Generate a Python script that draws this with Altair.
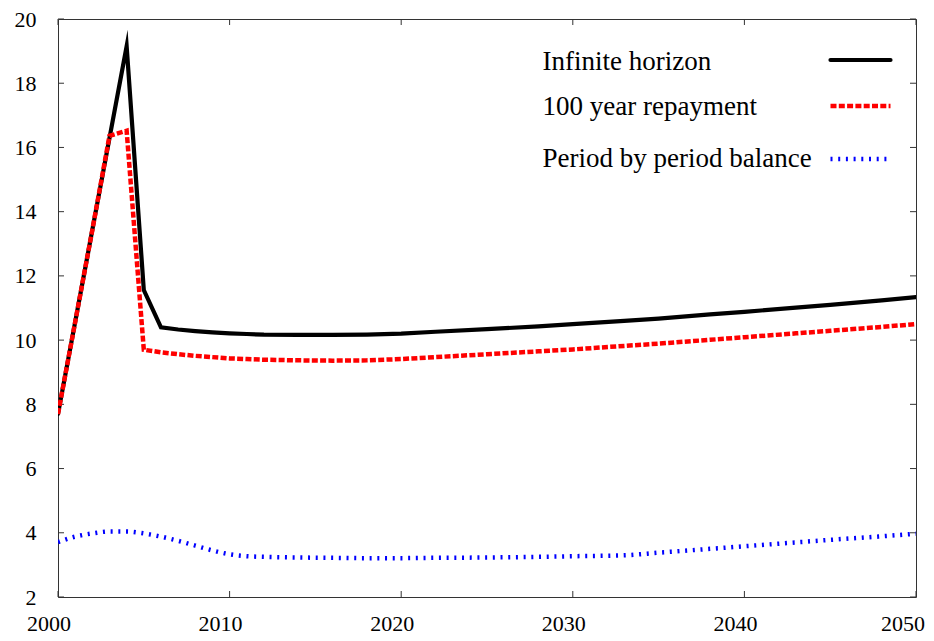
import altair as alt
import pandas as pd

# ---------------- data ----------------
years = [2000, 2001, 2002, 2003, 2004, 2005, 2006, 2007, 2008, 2009, 2010, 2011, 2012,
         2014, 2016, 2018, 2020, 2022, 2025, 2028, 2030, 2033, 2035, 2038, 2040, 2043,
         2045, 2048, 2050]
infinite_horizon = [7.70, 10.56, 13.43, 16.29, 19.15, 11.56, 10.40, 10.33, 10.28, 10.24,
                    10.21, 10.19, 10.17, 10.16, 10.16, 10.17, 10.20, 10.26, 10.34, 10.43,
                    10.50, 10.60, 10.67, 10.80, 10.88, 11.01, 11.10, 11.24, 11.34]
repayment_100 = [7.70, 10.56, 13.43, 16.36, 16.52, 9.70, 9.62, 9.56, 9.51, 9.47,
                 9.43, 9.41, 9.39, 9.37, 9.36, 9.37, 9.41, 9.47, 9.56, 9.65,
                 9.71, 9.82, 9.89, 10.01, 10.09, 10.21, 10.29, 10.41, 10.50]
period_balance = [3.71, 3.88, 3.98, 4.04, 4.04, 3.98, 3.88, 3.75, 3.60, 3.45,
                  3.33, 3.27, 3.25, 3.23, 3.22, 3.21, 3.21, 3.22, 3.23, 3.25,
                  3.27, 3.30, 3.38, 3.50, 3.58, 3.70, 3.78, 3.89, 3.97]
series_labels = ["Infinite horizon", "100 year repayment", "Period by period balance"]
x_ticks = [2000, 2010, 2020, 2030, 2040, 2050]
y_ticks = [2, 4, 6, 8, 10, 12, 14, 16, 18, 20]

# ---------------- layout / style ----------------
W, H = 858, 578
FONT = "Liberation Serif"
FRAME = "#333333"

xs = alt.Scale(domain=[2000, 2050], nice=False, zero=False)
ys = alt.Scale(domain=[2, 20], nice=False, zero=False)

x_axis = alt.Axis(values=x_ticks, format="d", ticks=False, tickSize=0, domain=False,
                  grid=False, labels=False, title=None)
y_axis = alt.Axis(values=y_ticks, format="d", ticks=False, tickSize=0, domain=False,
                  grid=False, labelFont=FONT, labelFontSize=22, labelColor="black",
                  labelPadding=22, labelOverlap=False, title=None)

xt = pd.DataFrame({"t": x_ticks})
yt = pd.DataFrame({"t": y_ticks})
x_last = max(x_ticks)

# inward tick marks on all four sides (gnuplot style)
tick_bottom = alt.Chart(xt).mark_rule(color=FRAME, strokeWidth=1).encode(
    x=alt.X("t:Q", scale=xs, axis=x_axis), y=alt.value(H), y2=alt.value(H - 6))
tick_top = alt.Chart(xt).mark_rule(color=FRAME, strokeWidth=1).encode(
    x=alt.X("t:Q", scale=xs, axis=x_axis), y=alt.value(0), y2=alt.value(6))
tick_left = alt.Chart(yt).mark_rule(color=FRAME, strokeWidth=1).encode(
    y=alt.Y("t:Q", scale=ys, axis=y_axis), x=alt.value(0), x2=alt.value(6))
tick_right = alt.Chart(yt).mark_rule(color=FRAME, strokeWidth=1).encode(
    y=alt.Y("t:Q", scale=ys, axis=y_axis), x=alt.value(W), x2=alt.value(W - 6))
x_labels = alt.Chart(xt).transform_filter(alt.datum.t < x_last).mark_text(
    font=FONT, fontSize=22, color="black", baseline="top", align="center", dx=-9).encode(
    x=alt.X("t:Q", scale=xs, axis=x_axis), y=alt.value(H + 17),
    text=alt.Text("t:Q", format="d"))
x_label_last = alt.Chart(xt).transform_filter(alt.datum.t >= x_last).mark_text(
    font=FONT, fontSize=22, color="black", baseline="top", align="center", dx=-13).encode(
    x=alt.X("t:Q", scale=xs, axis=x_axis), y=alt.value(H + 17),
    text=alt.Text("t:Q", format="d"))

styles = [
    dict(color="#000000", strokeWidth=4.2),
    dict(color="#ff0000", strokeWidth=4.5, strokeDash=[6, 2.3]),
    dict(color="#0000ff", strokeWidth=4.5, strokeDash=[2, 5.7]),
]
caps = ["round", "butt", "butt"]
interps = ["linear", "linear", "monotone"]
values = [infinite_horizon, repayment_100, period_balance]

line_layers = []
for vals, st, ip, cp in zip(values, styles, interps, caps):
    df = pd.DataFrame({"year": years, "value": vals})
    line_layers.append(
        alt.Chart(df).mark_line(strokeJoin="miter", strokeMiterLimit=20, strokeCap=cp,
                                interpolate=ip, clip=True, **st).encode(
            x=alt.X("year:Q", scale=xs, axis=x_axis),
            y=alt.Y("value:Q", scale=ys, axis=y_axis)))

# legend (gnuplot style: label left, sample right)
one = pd.DataFrame({"k": [0]})
text_y = [51, 96, 148]
line_y = [41, 87, 140]
legend_layers = []
for lab, st, ty, ly, cp in zip(series_labels, styles, text_y, line_y, caps):
    legend_layers.append(
        alt.Chart(one).mark_text(text=lab, align="left", baseline="alphabetic", font=FONT,
                                 fontSize=27, color="black").encode(
            x=alt.value(484.5), y=alt.value(ty)))
    legend_layers.append(
        alt.Chart(one).mark_rule(strokeCap=cp, **st).encode(
            x=alt.value(772.5), x2=alt.value(832.5), y=alt.value(ly)))

chart = alt.layer(
    tick_bottom, tick_top, tick_left, tick_right, x_labels, x_label_last,
    *line_layers, *legend_layers
).properties(
    width=W, height=H,
    padding={"left": 50, "top": 11, "right": 10, "bottom": 40},
    autosize=alt.AutoSizeParams(type="none"),
    background="white",
).configure_view(stroke=FRAME, strokeWidth=1
).configure_axis(labelFont=FONT, labelFontSize=22, labelColor="black"
).configure_text(font=FONT)

chart.save("out.html", embed_options={"renderer": "svg", "actions": False})
